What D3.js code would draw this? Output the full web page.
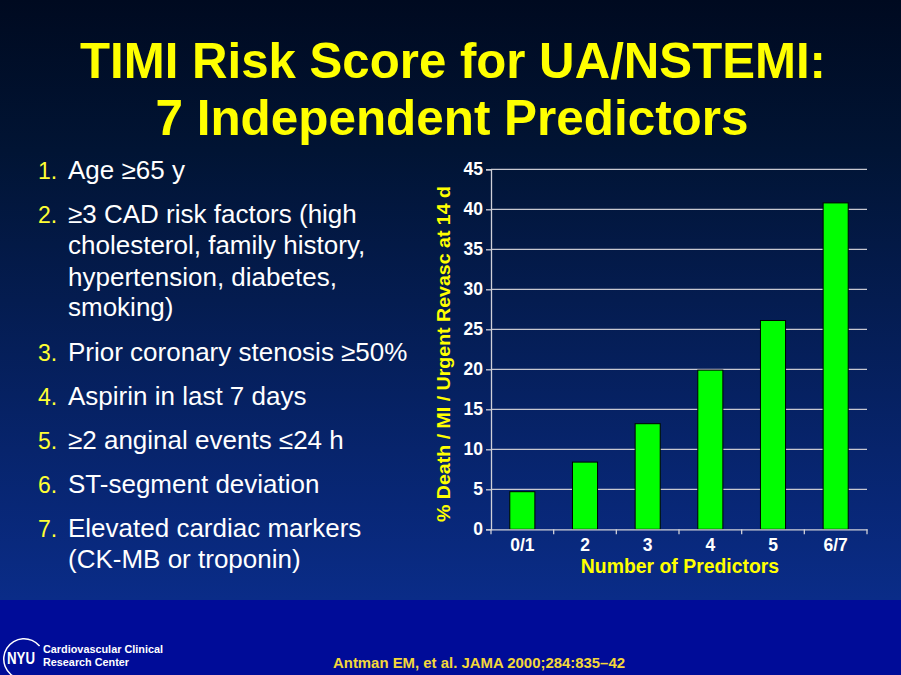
<!DOCTYPE html>
<html><head><meta charset="utf-8">
<script src="https://cdn.jsdelivr.net/npm/d3@7"></script>
<style>html,body{margin:0;padding:0;background:#000}svg{display:block}</style>
</head><body>
<script>
const categories = ["0/1", "2", "3", "4", "5", "6/7"];
const values = [4.7, 8.4, 13.2, 19.9, 26.1, 40.8];
const yTicks = [0, 5, 10, 15, 20, 25, 30, 35, 40, 45];
const titleLines = ["TIMI Risk Score for UA/NSTEMI:", "7 Independent Predictors"];
const predictors = [
  ["1.", ["Age \u226565 y"]],
  ["2.", ["\u22653 CAD risk factors (high", "cholesterol, family history,", "hypertension, diabetes,", "smoking)"]],
  ["3.", ["Prior coronary stenosis \u226550%"]],
  ["4.", ["Aspirin in last 7 days"]],
  ["5.", ["\u22652 anginal events \u226424 h"]],
  ["6.", ["ST-segment deviation"]],
  ["7.", ["Elevated cardiac markers", "(CK-MB or troponin)"]]
];
const yLabel = "% Death / MI / Urgent Revasc at 14 d";
const xLabel = "Number of Predictors";
const citation = "Antman EM, et al. JAMA 2000;284:835\u201342";

const W = 901, H = 675;
const svg = d3.select("body").append("svg").attr("width", W).attr("height", H);
const defs = svg.append("defs");
const g1 = defs.append("linearGradient").attr("id", "bg").attr("x1", 0).attr("y1", 0).attr("x2", 0).attr("y2", 1);
g1.append("stop").attr("offset", "0%").attr("stop-color", "#000a20");
g1.append("stop").attr("offset", "25%").attr("stop-color", "#011434");
g1.append("stop").attr("offset", "100%").attr("stop-color", "#0a2c88");
svg.append("rect").attr("width", W).attr("height", 600).attr("fill", "url(#bg)");
svg.append("rect").attr("y", 600).attr("width", W).attr("height", 75).attr("fill", "#000c98");

const font = "'Liberation Sans', Arial, Helvetica, sans-serif";

// Title
const tl = [{t: titleLines[0], x: 453, y: 78, w: 746}, {t: titleLines[1], x: 452, y: 135, w: 593}];
svg.selectAll("text.title").data(tl).join("text").attr("class", "title")
  .attr("x", d => d.x).attr("y", d => d.y).attr("text-anchor", "middle")
  .attr("font-family", font).attr("font-weight", "bold").attr("font-size", 50)
  .attr("fill", "#ffff00")
  .attr("textLength", d => d.w).attr("lengthAdjust", "spacingAndGlyphs")
  .text(d => d.t);

// Predictor list
const baselines = [[179], [223, 254, 286, 316], [361], [405], [449], [493], [537, 568]];
const list = svg.append("g").attr("font-family", font).attr("font-size", 26);
predictors.forEach((p, i) => {
  list.append("text").attr("x", 38).attr("y", baselines[i][0]).attr("fill", "#ffff33")
    .attr("font-size", 23).text(p[0]);
  p[1].forEach((line, j) => {
    list.append("text").attr("x", 68).attr("y", baselines[i][j]).attr("fill", "#ffffff").text(line);
  });
});

// Chart
const x0 = 491, x1 = 867, yTop = 169.3, yBot = 529.3;
const x = d3.scaleBand().domain(categories).range([x0, x1]).paddingInner(0.6).paddingOuter(0.3);
const y = d3.scaleLinear().domain([0, 45]).range([yBot, yTop]);

const chart = svg.append("g");
chart.selectAll("line.grid").data(yTicks.filter(t => t > 0)).join("line").attr("class", "grid")
  .attr("x1", x0).attr("x2", x1).attr("y1", d => y(d)).attr("y2", d => y(d))
  .attr("stroke", "#c8c8d0").attr("stroke-width", 1.3);

chart.selectAll("rect.bar").data(values).join("rect").attr("class", "bar")
  .attr("x", (d, i) => x(categories[i])).attr("width", x.bandwidth())
  .attr("y", d => y(d)).attr("height", d => yBot - y(d))
  .attr("fill", "#00ff00").attr("stroke", "#000").attr("stroke-width", 1);

// Y axis
const yAxis = chart.append("g").attr("transform", `translate(${x0},0)`)
  .call(d3.axisLeft(y).tickValues(yTicks).tickSize(5).tickPadding(3));
yAxis.select(".domain").attr("stroke", "#d0d0d8").attr("stroke-width", 1.3);
yAxis.selectAll(".tick line").attr("stroke", "#d0d0d8").attr("stroke-width", 1.3);
yAxis.selectAll(".tick text").attr("fill", "#ffffff").attr("font-family", font)
  .attr("font-weight", "bold").attr("font-size", 17.5);

// X axis
const xAxis = chart.append("g").attr("transform", `translate(0,${yBot})`)
  .call(d3.axisBottom(x).tickSize(0).tickPadding(9));
xAxis.select(".domain").attr("stroke", "#d0d0d8").attr("stroke-width", 1.3);
xAxis.selectAll(".tick text").attr("fill", "#ffffff").attr("font-family", font)
  .attr("font-weight", "bold").attr("font-size", 17.5);
const edges = d3.range(categories.length + 1).map(i => x0 + i * (x1 - x0) / categories.length);
xAxis.selectAll("line.sep").data(edges).join("line").attr("class", "sep")
  .attr("x1", d => d).attr("x2", d => d).attr("y1", 0).attr("y2", 5)
  .attr("stroke", "#d0d0d8").attr("stroke-width", 1.3);

// Axis labels
svg.append("text").attr("transform", `translate(450,354) rotate(-90)`)
  .attr("text-anchor", "middle").attr("font-family", font).attr("font-weight", "bold")
  .attr("font-size", 19).attr("fill", "#ffff00")
  .attr("textLength", 336).attr("lengthAdjust", "spacingAndGlyphs").text(yLabel);
svg.append("text").attr("x", 680).attr("y", 573).attr("text-anchor", "middle")
  .attr("font-family", font).attr("font-weight", "bold").attr("font-size", 19.4)
  .attr("fill", "#ffff00").text(xLabel);

// Footer
svg.append("text").attr("x", 479).attr("y", 668).attr("text-anchor", "middle")
  .attr("font-family", font).attr("font-weight", "bold").attr("font-size", 15)
  .attr("fill", "#f4d83a").attr("textLength", 292).attr("lengthAdjust", "spacingAndGlyphs").text(citation);

const logo = svg.append("g");
logo.append("path").attr("d", d3.arc()({innerRadius: 19.5, outerRadius: 21, startAngle: -Math.PI * 0.92, endAngle: Math.PI * 0.28}))
  .attr("transform", "translate(24,659)").attr("fill", "#ffffff");
logo.append("text").attr("x", 21).attr("y", 664).attr("text-anchor", "middle")
  .attr("font-family", font).attr("font-weight", "bold").attr("font-size", 16)
  .attr("fill", "#ffffff").attr("textLength", 28).attr("lengthAdjust", "spacingAndGlyphs").text("NYU");
logo.append("text").attr("x", 43).attr("y", 653).attr("font-family", font).attr("font-weight", "bold")
  .attr("font-size", 10.5).attr("fill", "#ffffff").attr("textLength", 120).attr("lengthAdjust", "spacingAndGlyphs")
  .text("Cardiovascular Clinical");
logo.append("text").attr("x", 43).attr("y", 666).attr("font-family", font).attr("font-weight", "bold")
  .attr("font-size", 10.5).attr("fill", "#ffffff").attr("textLength", 86).attr("lengthAdjust", "spacingAndGlyphs")
  .text("Research Center");
</script>
</body></html>
